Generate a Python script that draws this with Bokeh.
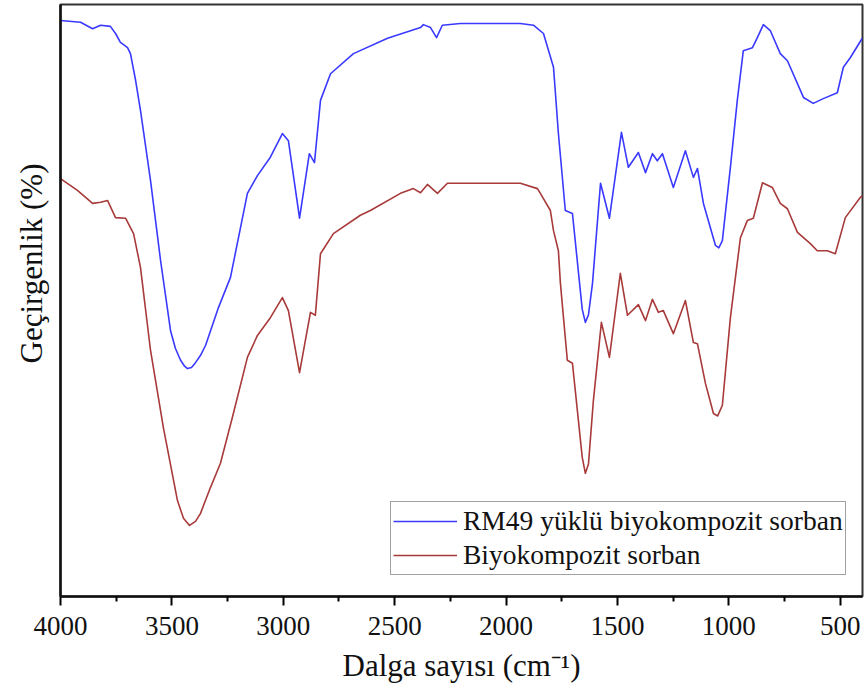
from bokeh.plotting import figure
from bokeh.models import Range1d, FixedTicker, Legend, LegendItem, Title
from bokeh.embed import file_html
from bokeh.resources import INLINE

# Wavenumber (cm^-1) and transmittance (arbitrary %, offset)
blue_wn = [4000, 3910, 3856, 3820, 3776, 3753, 3731, 3699, 3686, 3663, 3641, 3596, 3551, 3506,
           3484, 3461, 3443, 3430, 3412, 3394, 3372, 3349, 3291, 3237, 3161, 3116, 3058, 3004,
           2977, 2927, 2883, 2860, 2833, 2788, 2685, 2532, 2384, 2371, 2339, 2312, 2286, 2205,
           1936, 1877, 1832, 1787, 1765, 1734, 1702, 1658, 1644, 1630, 1612, 1576, 1536, 1482,
           1451, 1406, 1374, 1343, 1321, 1298, 1249, 1195, 1159, 1141, 1114, 1060, 1045, 1029,
           993, 962, 935, 894, 872, 845, 814, 769, 737, 665, 621, 576, 513, 486, 455, 401]
blue_t = [97.3, 97.0, 95.9, 96.5, 96.3, 95.1, 93.6, 92.7, 91.7, 87.2, 82.1, 70.3, 56.8, 44.9,
          41.9, 39.9, 38.9, 38.5, 38.7, 39.5, 40.7, 42.4, 48.8, 53.9, 68.1, 71.1, 74.2, 78.2,
          77.0, 63.9, 74.8, 73.3, 83.8, 88.3, 91.7, 94.3, 96.1, 96.6, 96.1, 94.4, 96.5, 96.8,
          96.8, 96.5, 95.1, 89.4, 78.2, 65.2, 64.7, 48.5, 46.3, 47.6, 52.9, 69.8, 63.9, 78.4,
          72.5, 75.0, 71.6, 74.8, 73.6, 74.8, 69.1, 75.3, 70.8, 72.3, 66.4, 59.3, 58.9, 60.1,
          72.5, 83.8, 92.2, 92.7, 94.4, 96.6, 95.6, 91.7, 90.5, 84.3, 83.3, 84.1, 85.1, 89.4,
          91.0, 94.3]

red_wn = [4000, 3924, 3856, 3820, 3789, 3753, 3708, 3686, 3672, 3641, 3596, 3538, 3475, 3448,
          3421, 3394, 3372, 3327, 3282, 3224, 3161, 3116, 3058, 3004, 2977, 2927, 2878, 2856,
          2833, 2775, 2654, 2609, 2474, 2416, 2384, 2353, 2308, 2263, 1936, 1859, 1846, 1801,
          1787, 1765, 1756, 1725, 1702, 1658, 1644, 1630, 1608, 1572, 1536, 1487, 1455, 1406,
          1374, 1343, 1316, 1294, 1249, 1195, 1159, 1141, 1105, 1069, 1050, 1029, 993, 948, 917,
          890, 849, 805, 769, 737, 692, 634, 603, 558, 522, 477, 410, 400]
red_t = [70.6, 68.6, 66.4, 66.6, 66.9, 64.0, 63.9, 62.3, 61.3, 55.6, 41.6, 28.5, 16.2, 13.2,
         12.0, 12.7, 14.0, 18.4, 22.5, 30.9, 40.4, 44.1, 47.1, 50.5, 48.3, 37.8, 48.0, 47.5,
         57.9, 61.3, 64.4, 65.2, 68.1, 68.9, 68.2, 69.6, 68.1, 69.8, 69.8, 68.9, 68.1, 65.2,
         61.8, 58.4, 52.9, 39.9, 39.4, 23.5, 20.8, 22.4, 33.1, 46.3, 40.4, 54.6, 47.5, 49.3,
         46.6, 50.2, 48.0, 48.3, 44.4, 50.0, 42.9, 42.7, 36.0, 30.9, 30.5, 32.3, 47.1, 60.6,
         63.5, 63.9, 69.9, 69.1, 66.4, 65.5, 61.5, 59.6, 58.4, 58.4, 57.9, 64.0, 67.4, 67.7]

x_ticks = [4000, 3500, 3000, 2500, 2000, 1500, 1000, 500]
x_minor = [3750, 3250, 2750, 2250, 1750, 1250, 750]
series_names = ["RM49 yüklü biyokompozit sorban", "Biyokompozit sorban"]
x_title = "Dalga sayısı (cm⁻¹)"
y_title = "Geçirgenlik (%)"

FONT = "Liberation Serif"
TXT = "#111111"

p = figure(width=864, height=692, output_backend="svg", toolbar_location=None,
           x_range=Range1d(4000, 400), y_range=Range1d(0, 100),
           min_border_left=60, min_border_right=2, min_border_top=4, min_border_bottom=96)
p.grid.visible = False
p.outline_line_color = "#333333"
p.outline_line_width = 2
p.background_fill_color = "white"
p.border_fill_color = "white"

b = p.line(blue_wn, blue_t, line_color="#3a3aff", line_width=1.6, line_join="round")
r = p.line(red_wn, red_t, line_color="#a83a3a", line_width=1.6, line_join="round")

xa = p.xaxis[0]
xa.ticker = FixedTicker(ticks=x_ticks, minor_ticks=x_minor)
xa.axis_line_width = 2.5
xa.axis_line_color = TXT
xa.major_tick_line_width = 2
xa.major_tick_in = 0
xa.major_tick_out = 9
xa.minor_tick_line_width = 2
xa.minor_tick_in = 0
xa.minor_tick_out = 5
xa.major_label_text_font = FONT
xa.major_label_text_font_size = "27px"
xa.major_label_text_color = TXT
xa.major_label_standoff = 11
xa.axis_label = x_title
xa.axis_label_text_font = FONT
xa.axis_label_text_font_size = "31px"
xa.axis_label_text_font_style = "normal"
xa.axis_label_text_color = TXT
xa.axis_label_standoff = 10

ya = p.yaxis[0]
ya.ticker = FixedTicker(ticks=[])
ya.major_label_text_font_size = "0px"
ya.major_tick_line_color = None
ya.minor_tick_line_color = None
ya.axis_line_width = 2.5
ya.axis_line_color = TXT

ytitle = Title(text=y_title, align="left", offset=233, standoff=23,
               text_font=FONT, text_font_size="31px", text_font_style="normal",
               text_color=TXT)
p.add_layout(ytitle, "left")

legend = Legend(items=[LegendItem(label=series_names[0], renderers=[b]),
                       LegendItem(label=series_names[1], renderers=[r])],
                location=(330, 21))
legend.padding = 2
legend.spacing = 0
legend.margin = 0
legend.glyph_width = 64
legend.glyph_height = 34
legend.label_height = 34
legend.label_standoff = 6
legend.label_text_font = FONT
legend.label_text_font_size = "27.5px"
legend.label_text_color = TXT
legend.border_line_color = "#444444"
legend.border_line_width = 1.5
legend.background_fill_alpha = 1.0
p.add_layout(legend, "center")

open("out.html", "w").write(file_html(p, INLINE))
